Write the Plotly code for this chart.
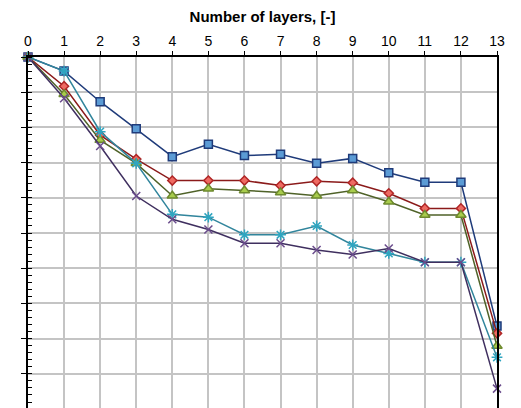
import plotly.graph_objects as go

layers = list(range(14))

s_square = [0, -0.40, -1.27, -2.04, -2.83, -2.48, -2.80, -2.76, -3.02, -2.88, -3.29, -3.56, -3.56, -7.64]
s_diamond = [0, -0.83, -2.22, -2.90, -3.51, -3.51, -3.51, -3.65, -3.53, -3.57, -3.87, -4.30, -4.30, -7.85]
s_triangle = [0, -1.06, -2.36, -3.02, -3.94, -3.74, -3.79, -3.85, -3.94, -3.79, -4.11, -4.49, -4.49, -8.21]
s_asterisk = [0, -0.40, -2.12, -3.02, -4.47, -4.55, -5.05, -5.05, -4.80, -5.34, -5.58, -5.83, -5.83, -8.53]
s_cross = [0, -1.17, -2.53, -3.95, -4.61, -4.90, -5.29, -5.29, -5.48, -5.61, -5.44, -5.83, -5.83, -9.42]

series = [
    (s_square, "square", "#1F3B7A", "#5B9BD5", "#1F3B7A", 8),
    (s_diamond, "diamond", "#8B1A1A", "#EE6A62", "#B02626", 7),
    (s_triangle, "triangle-up", "#4F6228", "#A8CC4C", "#6E8A2E", 9),
    (s_asterisk, "asterisk-open", "#31859C", "#2FA5C0", "#2FA5C0", 9),
    (s_cross, "x-thin-open", "#3F2F5F", "#6A4C8C", "#6A4C8C", 8),
]

fig = go.Figure()
for ys, sym, lc, fc, mc, sz in series:
    fig.add_trace(go.Scatter(
        x=layers, y=ys, mode="lines+markers",
        line=dict(color=lc, width=1.5),
        marker=dict(symbol=sym, size=sz, color=fc,
                    line=dict(color=mc, width=1.5)),
        cliponaxis=False, showlegend=False,
    ))

# page has an 8px body margin, so the figure is sized to fill the remaining window
fig.update_layout(
    width=513, height=400,
    margin=dict(l=20, r=24, t=49, b=0),
    paper_bgcolor="white", plot_bgcolor="white",
    font=dict(family="Liberation Sans, Arial, sans-serif", color="black", size=14),
    xaxis=dict(
        side="top", range=[0, 13], tickmode="array", tickvals=layers,
        ticktext=[str(v) for v in layers],
        showgrid=True, gridcolor="#C4C4C4", gridwidth=1.5,
        showline=True, linecolor="black", linewidth=1.5,
        ticks="outside", ticklen=4, tickcolor="black",
        zeroline=False, automargin=False,
        title=dict(text="<b>Number of layers, [-]</b>", font=dict(size=15), standoff=12),
    ),
    yaxis=dict(
        range=[-9.97, 0], dtick=1, showticklabels=False,
        showgrid=True, gridcolor="#C4C4C4", gridwidth=1.5,
        showline=True, linecolor="black", linewidth=1.5, mirror=True,
        ticks="outside", ticklen=5, tickcolor="black",
        minor=dict(dtick=0.2, ticks="inside", ticklen=4, tickcolor="black", showgrid=False),
        zeroline=False, automargin=False,
    ),
)

fig.write_html("out.html")
